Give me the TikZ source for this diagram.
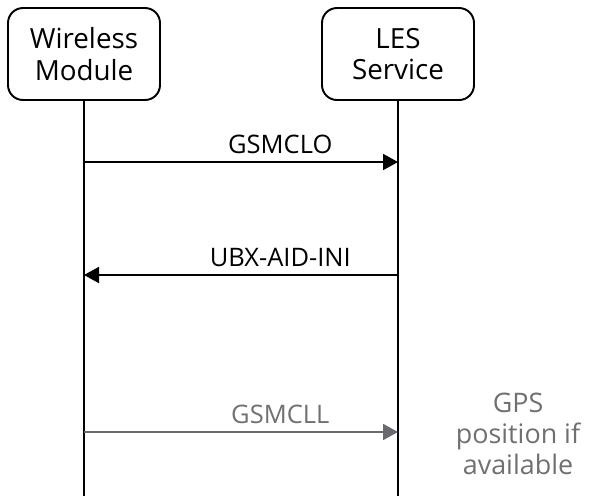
\documentclass[tikz,border=0pt]{standalone}
\usepackage{fontspec}
\setmainfont{Open Sans}
\usetikzlibrary{arrows.meta, positioning}
\tikzset{every node/.append style={align=center}}
\definecolor{msggray}{RGB}{105,105,112}
\definecolor{txtgray}{RGB}{112,112,112}

\begin{document}
\begin{tikzpicture}[
  actor/.style={rectangle, rounded corners=0.3cm, draw, line width=1.1pt,
                minimum width=3.04cm, minimum height=1.84cm,
                font=\fontsize{15.8}{19}\selectfont, inner sep=2pt},
  life/.style={line width=1.1pt},
  msg/.style={-{Triangle[length=0.3cm,width=0.32cm]}, line width=1.1pt},
  lbl/.style={font=\fontsize{14.5}{17}\selectfont, inner sep=2pt}
]
\useasboundingbox (0,0) rectangle (12.1,-9.92);

% Actors
\node[actor] (wm) at (1.68,-1.08) {Wireless\\[-1pt]Module};
\node[actor] (les) at (7.96,-1.08) {LES\\[-1pt]Service};

% Lifelines
\coordinate (wmEnd) at (wm.south |- 0,-9.92);
\coordinate (lesEnd) at (les.south |- 0,-9.92);
\draw[life] (wm.south) -- (wmEnd);
\draw[life] (les.south) -- (lesEnd);

% Message anchors
\foreach \n/\y in {1/-3.24, 2/-5.5, 3/-8.64} {
  \coordinate (wm\n) at (wm.south |- 0,\y);
  \coordinate (les\n) at (les.south |- 0,\y);
}

% Messages
\draw[msg] (wm1) -- (les1) node[lbl, pos=0.625, above=0.08cm] (m1) {GSMCLO};
\draw[msg] (les2) -- (wm2) node[lbl, pos=0.375, above=0.08cm] (m2) {UBX-AID-INI};
\draw[msg, msggray] (wm3) -- (les3)
  node[lbl, pos=0.625, above=0.08cm, text=txtgray] (m3) {GSMCLL};

% Note
\node[lbl, text=txtgray, font=\fontsize{15.3}{17.6}\selectfont] (note) at (10.36,-8.68)
  {GPS\\position if\\available};

\end{tikzpicture}
\end{document}
